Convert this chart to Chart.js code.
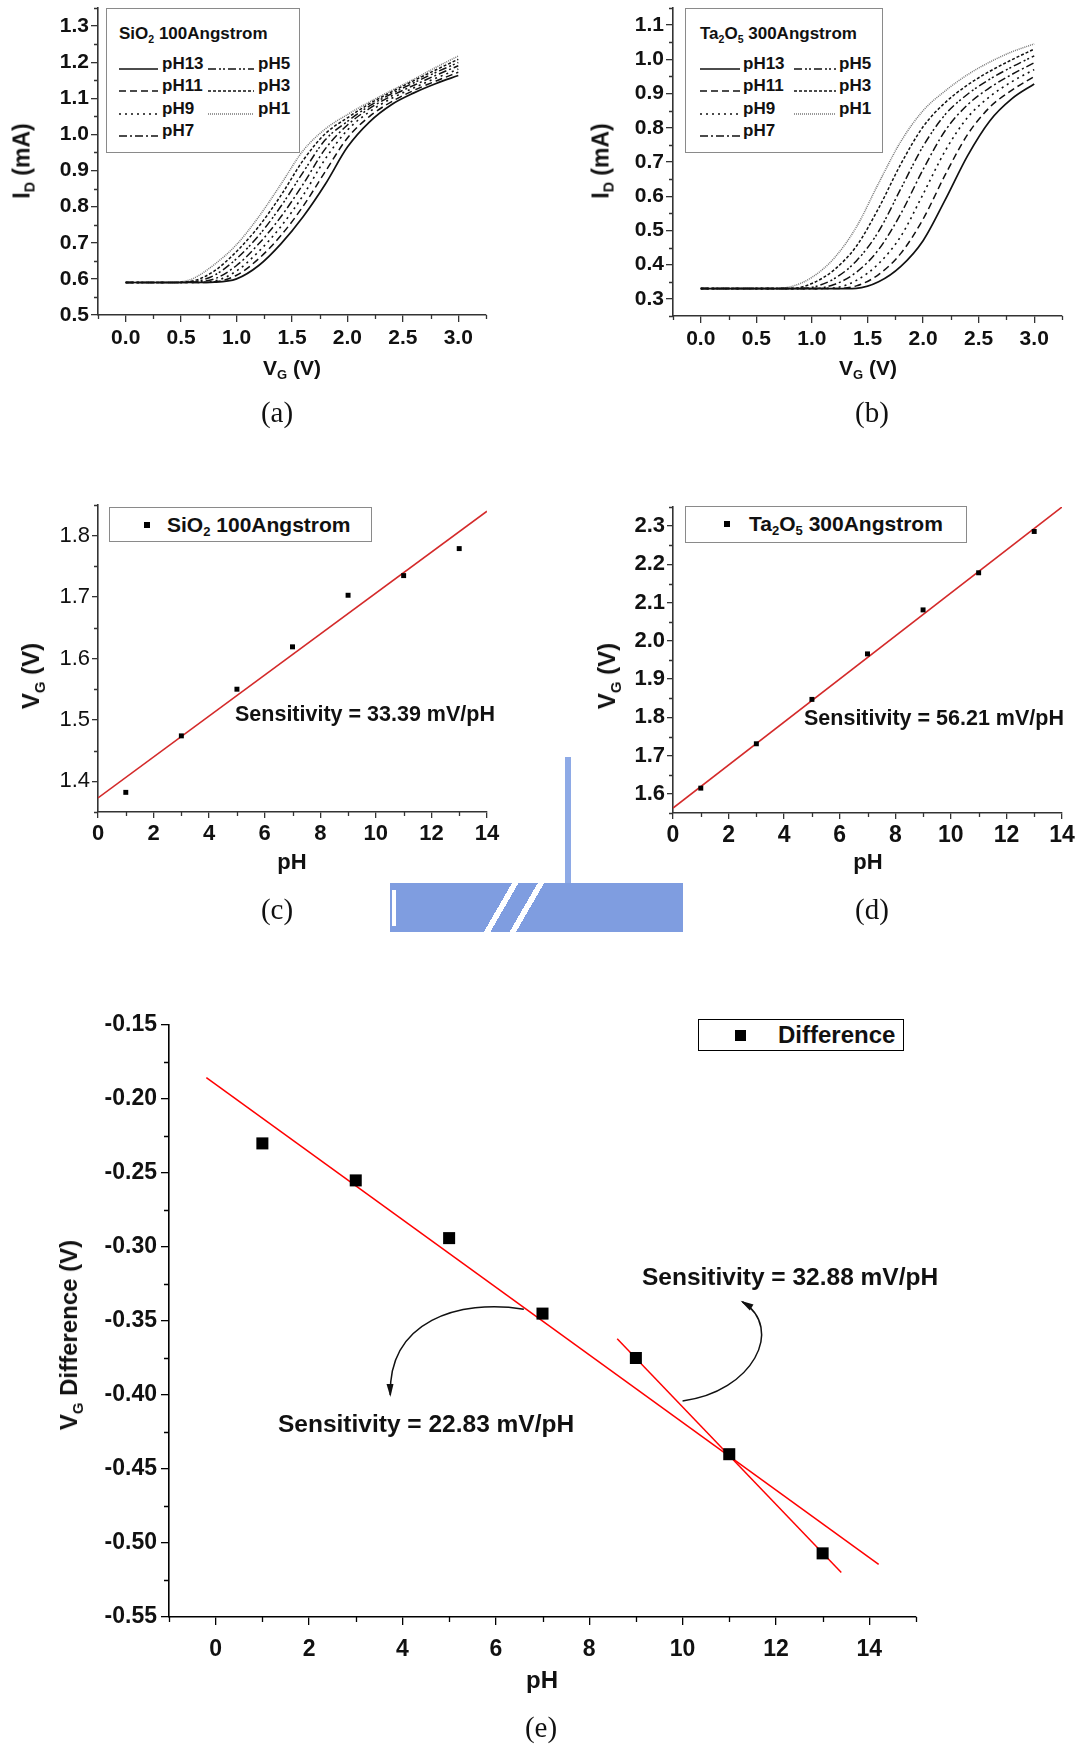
<!DOCTYPE html>
<html>
<head>
<meta charset="utf-8">
<script src="https://cdn.jsdelivr.net/npm/chart.js@4.4.1/dist/chart.umd.min.js"></script>
<style>
  html, body { margin:0; padding:0; background:#fff; }
  body { width:1078px; height:1747px; position:relative; overflow:hidden;
         font-family:'Liberation Sans', Arial, Helvetica, sans-serif; color:#111; }
  canvas { position:absolute; }
  .t { position:absolute; white-space:nowrap; line-height:1; color:#111; }
  .t sub { font-size:0.62em; vertical-align:-0.38em; line-height:0; }
  .box { position:absolute; background:#fff; box-sizing:border-box; }
  .wm { position:absolute; background:#7f9de0; }
</style>
</head>
<body>
<div class="wm" style="left:390px;top:883px;width:293px;height:49px;
  background:linear-gradient(120deg,#7f9de0 0 38%,#fff 38% 40%,#7f9de0 40% 46%,#fff 46% 48%,#7f9de0 48% 100%);"></div>
<div class="wm" style="left:392px;top:890px;width:4px;height:36px;background:#fff;"></div>
<div class="wm" style="left:565px;top:757px;width:6px;height:126px;background:#8eaae6;"></div>
<script>
// ---------------- DATA ----------------
const vgValues = [0.0,0.2,0.4,0.6,0.8,1.0,1.2,1.4,1.6,1.8,2.0,2.2,2.4,2.6,2.8,3.0];
const phLabels = ['pH13','pH11','pH9','pH7','pH5','pH3','pH1'];

// (a) SiO2 100 Angstrom, I_D (mA)
const sio2_pH13 = [0.590,0.590,0.590,0.590,0.591,0.600,0.637,0.697,0.772,0.862,0.965,1.035,1.083,1.115,1.141,1.163];
const sio2_pH11 = [0.590,0.590,0.590,0.590,0.592,0.610,0.656,0.720,0.801,0.897,0.990,1.050,1.091,1.122,1.148,1.172];
const sio2_pH9  = [0.590,0.590,0.590,0.590,0.594,0.622,0.676,0.745,0.831,0.932,1.012,1.063,1.100,1.129,1.156,1.181];
const sio2_pH7  = [0.590,0.590,0.590,0.591,0.600,0.637,0.697,0.772,0.862,0.960,1.026,1.072,1.107,1.136,1.164,1.190];
const sio2_pH5  = [0.590,0.590,0.590,0.592,0.610,0.656,0.720,0.801,0.895,0.985,1.036,1.079,1.113,1.143,1.172,1.199];
const sio2_pH3  = [0.590,0.590,0.590,0.594,0.622,0.676,0.745,0.831,0.928,1.002,1.046,1.085,1.118,1.149,1.179,1.208];
const sio2_pH1  = [0.590,0.590,0.590,0.600,0.640,0.695,0.772,0.862,0.955,1.015,1.055,1.090,1.122,1.153,1.186,1.217];

// (b) Ta2O5 300 Angstrom, I_D (mA)
const ta2o5_pH13 = [0.330,0.330,0.330,0.330,0.330,0.330,0.330,0.331,0.350,0.395,0.470,0.590,0.718,0.820,0.885,0.928];
const ta2o5_pH11 = [0.330,0.330,0.330,0.330,0.330,0.330,0.330,0.338,0.371,0.433,0.533,0.663,0.780,0.860,0.910,0.950];
const ta2o5_pH9  = [0.330,0.330,0.330,0.330,0.330,0.330,0.332,0.354,0.403,0.483,0.606,0.733,0.830,0.891,0.935,0.970];
const ta2o5_pH7  = [0.330,0.330,0.330,0.330,0.330,0.330,0.342,0.378,0.444,0.549,0.678,0.792,0.867,0.917,0.956,0.990];
const ta2o5_pH5  = [0.330,0.330,0.330,0.330,0.330,0.334,0.359,0.411,0.497,0.622,0.746,0.839,0.898,0.942,0.978,1.010];
const ta2o5_pH3  = [0.330,0.330,0.330,0.330,0.330,0.345,0.385,0.454,0.565,0.694,0.803,0.874,0.925,0.965,0.999,1.030];
const ta2o5_pH1  = [0.330,0.330,0.330,0.330,0.335,0.363,0.419,0.510,0.638,0.760,0.850,0.908,0.955,0.992,1.022,1.045];

// (c)(d)(e) V_G vs pH
const phPoints = [1,3,5,7,9,11,13];
const sio2VG  = [1.382,1.474,1.550,1.619,1.703,1.735,1.779];
const ta2o5VG = [1.615,1.731,1.847,1.966,2.081,2.178,2.286];
const diffVG  = [-0.230,-0.255,-0.294,-0.345,-0.375,-0.440,-0.507];

// fitted lines (end points)
const sio2FitX  = [0,14];      const sio2FitY  = [1.373,1.840];
const ta2o5FitX = [0,14];      const ta2o5FitY = [1.563,2.350];
const diffFit1X = [-0.2,14.2]; const diffFit1Y = [-0.1855,-0.5145];
const diffFit2X = [8.6,13.4];  const diffFit2Y = [-0.362,-0.520];

// curved annotation arrows (bezier control points, data coords)
const arrow1X = [6.6,5.2,3.7,3.74];     const arrow1Y = [-0.342,-0.335,-0.350,-0.400];
const arrow2X = [10.0,11.5,12.2,11.28]; const arrow2Y = [-0.404,-0.398,-0.355,-0.337];

// tick values
const idXTicks = [0,0.5,1.0,1.5,2.0,2.5,3.0];
const idXMinor = [-0.25,0.25,0.75,1.25,1.75,2.25,2.75,3.25];
const sio2IdYTicks = [0.5,0.6,0.7,0.8,0.9,1.0,1.1,1.2,1.3];
const sio2IdYMinor = [0.55,0.65,0.75,0.85,0.95,1.05,1.15,1.25,1.35];
const ta2o5IdYTicks = [0.3,0.4,0.5,0.6,0.7,0.8,0.9,1.0,1.1];
const ta2o5IdYMinor = [0.25,0.35,0.45,0.55,0.65,0.75,0.85,0.95,1.05,1.15];
const phXTicks = [0,2,4,6,8,10,12,14];
const phXMinor = [1,3,5,7,9,11,13];
const sio2VgYTicks = [1.4,1.5,1.6,1.7,1.8];
const sio2VgYMinor = [1.35,1.45,1.55,1.65,1.75,1.85];
const ta2o5VgYTicks = [1.6,1.7,1.8,1.9,2.0,2.1,2.2,2.3];
const ta2o5VgYMinor = [1.55,1.65,1.75,1.85,1.95,2.05,2.15,2.25,2.35];
const diffXTicks = [0,2,4,6,8,10,12,14];
const diffXMinor = [-1,1,3,5,7,9,11,13,15];
const diffYTicks = [-0.55,-0.50,-0.45,-0.40,-0.35,-0.30,-0.25,-0.20,-0.15];
const diffYMinor = [-0.525,-0.475,-0.425,-0.375,-0.325,-0.275,-0.225,-0.175];

// ---------------- STYLES ----------------
const phDash  = [[],[7,4],[2,4],[8,3,2,3],[8,3,2,2,2,3],[3,2],[1,1]];
const phColor = ['#111','#111','#111','#111','#111','#111','#777'];
const phWidth = [1.7,1.5,1.6,1.5,1.5,1.5,1.5];

Chart.defaults.font.family = "'Liberation Sans', Arial, Helvetica, sans-serif";
Chart.defaults.color = '#111';

const minorTickPlugin = {
  id: 'minorTicks',
  afterDraw(chart, args, opts) {
    const {ctx, chartArea: a, scales: {x, y}} = chart;
    ctx.save();
    ctx.strokeStyle = opts.color; ctx.lineWidth = 1.3;
    ctx.beginPath();
    (opts.x || []).forEach(v => { const p = Math.round(x.getPixelForValue(v)) + 0.5; ctx.moveTo(p, a.bottom); ctx.lineTo(p, a.bottom + opts.len); });
    (opts.y || []).forEach(v => { const p = Math.round(y.getPixelForValue(v)) + 0.5; ctx.moveTo(a.left, p); ctx.lineTo(a.left - opts.len, p); });
    ctx.stroke();
    ctx.restore();
  }
};

const arrowPlugin = {
  id: 'arrows',
  afterDatasetsDraw(chart, args, opts) {
    const list = opts.list || [];
    if (!list.length) return;
    const {ctx, scales: {x, y}} = chart;
    ctx.save();
    ctx.strokeStyle = '#111'; ctx.fillStyle = '#111'; ctx.lineWidth = 1.5;
    list.forEach(a => {
      const P = a.x.map((xv, i) => [x.getPixelForValue(xv), y.getPixelForValue(a.y[i])]);
      ctx.beginPath();
      ctx.moveTo(P[0][0], P[0][1]);
      ctx.bezierCurveTo(P[1][0], P[1][1], P[2][0], P[2][1], P[3][0], P[3][1]);
      ctx.stroke();
      const ang = Math.atan2(P[3][1] - P[2][1], P[3][0] - P[2][0]);
      const L = 11, W = 3.5;
      const bx = P[3][0] - L * Math.cos(ang), by = P[3][1] - L * Math.sin(ang);
      ctx.beginPath();
      ctx.moveTo(P[3][0] + 2 * Math.cos(ang), P[3][1] + 2 * Math.sin(ang));
      ctx.lineTo(bx + W * Math.sin(ang), by - W * Math.cos(ang));
      ctx.lineTo(bx - W * Math.sin(ang), by + W * Math.cos(ang));
      ctx.closePath();
      ctx.fill();
    });
    ctx.restore();
  }
};

function makePanel(rect, o) {
  const mL = o.mL, mT = 40, mR = 50, mB = o.mB;
  const W = rect.R - rect.L + mL + mR, H = rect.B - rect.T + mT + mB;
  const cv = document.createElement('canvas');
  cv.width = W; cv.height = H;
  cv.style.width = W + 'px'; cv.style.height = H + 'px';
  cv.style.left = (rect.L - mL) + 'px';
  cv.style.top = (rect.T - mT) + 'px';
  document.body.appendChild(cv);
  const gridOpt = {drawOnChartArea: false, drawTicks: true, tickLength: o.tickLen, color: o.axisColor, lineWidth: 1.3};
  const borderOpt = {display: true, color: o.axisColor, width: 1.6};
  return new Chart(cv, {
    type: 'scatter',
    data: {datasets: o.datasets},
    options: {
      responsive: false, animation: false, devicePixelRatio: 1, events: [],
      layout: {padding: {left: 8, top: mT, right: mR, bottom: 4}},
      plugins: {
        legend: {display: false}, tooltip: {enabled: false},
        minorTicks: {x: o.xMinor, y: o.yMinor, len: o.minorLen, color: o.axisColor},
        arrows: {list: o.arrows || []}
      },
      scales: {
        x: {
          type: 'linear', position: 'bottom', min: o.xMin, max: o.xMax,
          afterFit: (s) => { s.height = mB - 4; },
          afterBuildTicks: (s) => { s.ticks = o.xTicks.map(v => ({value: v})); },
          ticks: {autoSkip: false, maxRotation: 0, padding: o.xPad, font: o.xFont, color: '#111', callback: o.xFmt},
          grid: gridOpt, border: borderOpt
        },
        y: {
          type: 'linear', position: 'left', min: o.yMin, max: o.yMax,
          afterFit: (s) => { s.width = mL - 8; },
          afterBuildTicks: (s) => { s.ticks = o.yTicks.map(v => ({value: v})); },
          ticks: {autoSkip: false, padding: o.yPad, font: o.yFont, color: '#111', callback: o.yFmt},
          grid: gridOpt, border: borderOpt
        }
      }
    },
    plugins: [minorTickPlugin, arrowPlugin]
  });
}

function curveSets(series) {
  return series.map((arr, i) => ({
    label: phLabels[i],
    data: vgValues.map((v, j) => ({x: v, y: arr[j]})),
    showLine: true, pointRadius: 0, borderColor: phColor[i], borderWidth: phWidth[i],
    borderDash: phDash[i], cubicInterpolationMode: 'monotone', fill: false
  }));
}
function pointSet(xs, ys, r) {
  return {data: xs.map((v, i) => ({x: v, y: ys[i]})), pointStyle: 'rect', pointRadius: r,
          backgroundColor: '#000', borderColor: '#000', borderWidth: 0, showLine: false};
}
function lineSet(xs, ys, color, w) {
  return {data: xs.map((v, i) => ({x: v, y: ys[i]})), showLine: true, pointRadius: 0,
          borderColor: color, borderWidth: w, fill: false};
}

const f1 = v => v.toFixed(1), f0 = v => String(v), f2 = v => v.toFixed(2);
const B = (s) => ({size: s, weight: 'bold'});

// (a)
makePanel({L: 98, R: 486, T: 8, B: 315}, {
  mL: 98, mB: 50, xMin: -0.25, xMax: 3.25, yMin: 0.5, yMax: 1.35,
  xTicks: idXTicks, yTicks: sio2IdYTicks, xMinor: idXMinor, yMinor: sio2IdYMinor,
  xFmt: f1, yFmt: f1, xFont: B(21), yFont: B(21), xPad: 4, yPad: 2, tickLen: 7, minorLen: 4, axisColor: '#333',
  datasets: curveSets([sio2_pH13, sio2_pH11, sio2_pH9, sio2_pH7, sio2_pH5, sio2_pH3, sio2_pH1])
});
// (b)
makePanel({L: 673, R: 1062, T: 8, B: 316}, {
  mL: 98, mB: 50, xMin: -0.25, xMax: 3.25, yMin: 0.25, yMax: 1.15,
  xTicks: idXTicks, yTicks: ta2o5IdYTicks, xMinor: idXMinor, yMinor: ta2o5IdYMinor,
  xFmt: f1, yFmt: f1, xFont: B(21), yFont: B(21), xPad: 4, yPad: 2, tickLen: 7, minorLen: 4, axisColor: '#333',
  datasets: curveSets([ta2o5_pH13, ta2o5_pH11, ta2o5_pH9, ta2o5_pH7, ta2o5_pH5, ta2o5_pH3, ta2o5_pH1])
});
// (c)
makePanel({L: 98, R: 487, T: 505, B: 812}, {
  mL: 98, mB: 50, xMin: 0, xMax: 14, yMin: 1.35, yMax: 1.85,
  xTicks: phXTicks, yTicks: sio2VgYTicks, xMinor: phXMinor, yMinor: sio2VgYMinor,
  xFmt: f0, yFmt: f1, xFont: B(22), yFont: {size: 22, weight: 'normal'}, xPad: 3, yPad: 2, tickLen: 6, minorLen: 4, axisColor: '#333',
  datasets: [pointSet(phPoints, sio2VG, 3.5), lineSet(sio2FitX, sio2FitY, '#d42a2a', 1.6)]
});
// (d)
makePanel({L: 673, R: 1062, T: 507, B: 813}, {
  mL: 98, mB: 50, xMin: 0, xMax: 14, yMin: 1.55, yMax: 2.35,
  xTicks: phXTicks, yTicks: ta2o5VgYTicks, xMinor: phXMinor, yMinor: ta2o5VgYMinor,
  xFmt: f0, yFmt: f1, xFont: B(23), yFont: B(22), xPad: 3, yPad: 2, tickLen: 6, minorLen: 4, axisColor: '#333',
  datasets: [pointSet(phPoints, ta2o5VG, 3.5), lineSet(ta2o5FitX, ta2o5FitY, '#d42a2a', 1.6)]
});
// (e)
makePanel({L: 169, R: 916, T: 1025, B: 1617}, {
  mL: 120, mB: 60, xMin: -1, xMax: 15, yMin: -0.55, yMax: -0.15,
  xTicks: diffXTicks, yTicks: diffYTicks, xMinor: diffXMinor, yMinor: diffYMinor,
  xFmt: f0, yFmt: f2, xFont: B(23), yFont: B(23), xPad: 11, yPad: 4, tickLen: 8, minorLen: 5, axisColor: '#000',
  datasets: [pointSet(phPoints, diffVG, 8.5), lineSet(diffFit1X, diffFit1Y, '#ff0000', 1.5), lineSet(diffFit2X, diffFit2Y, '#ff0000', 1.5)],
  arrows: [{x: arrow1X, y: arrow1Y}, {x: arrow2X, y: arrow2Y}]
});

// ---------------- TEXT / LEGENDS (HTML) ----------------
function addText(html, x, y, size, o = {}) {
  const d = document.createElement('div');
  d.className = 't';
  d.innerHTML = html;
  d.style.fontSize = size + 'px';
  d.style.left = x + 'px'; d.style.top = y + 'px';
  d.style.fontWeight = o.weight || 'bold';
  if (o.family) d.style.fontFamily = o.family;
  let tf = o.anchor === 'center' ? 'translate(-50%,-50%)' : 'translate(0,-50%)';
  if (o.rot) tf = 'translate(-50%,-50%) rotate(-90deg)';
  d.style.transform = tf;
  document.body.appendChild(d);
  return d;
}
function addBox(x, y, w, h, border) {
  const d = document.createElement('div');
  d.className = 'box';
  Object.assign(d.style, {left: x + 'px', top: y + 'px', width: w + 'px', height: h + 'px', border: border});
  document.body.appendChild(d);
}
function addSample(i, x1, x2, y) {
  const w = x2 - x1;
  const d = document.createElement('div');
  d.style.position = 'absolute'; d.style.left = x1 + 'px'; d.style.top = (y - 4) + 'px';
  d.innerHTML = `<svg width="${w}" height="8"><line x1="0" y1="4" x2="${w}" y2="4" stroke="${phColor[i]}" stroke-width="${phWidth[i]}" stroke-dasharray="${phDash[i].join(' ') || 'none'}"/></svg>`;
  document.body.appendChild(d);
}
function addMarker(cx, cy, s) {
  const d = document.createElement('div');
  Object.assign(d.style, {position: 'absolute', left: (cx - s / 2) + 'px', top: (cy - s / 2) + 'px', width: s + 'px', height: s + 'px', background: '#000'});
  document.body.appendChild(d);
}
const serif = "'Liberation Serif', 'Times New Roman', serif";

function curveLegend(bx, by, bw, bh, titleHtml, c1, c2) {
  addBox(bx, by, bw, bh, '1.3px solid #8a8a8a');
  addText(titleHtml, c1.s1, by + 25, 17);
  const rows = [by + 55, by + 77, by + 99.5, by + 122];
  [0, 1, 2, 3].forEach((i, r) => { addSample(i, c1.s1, c1.s2, rows[r]); addText(phLabels[i], c1.l, rows[r], 17); });
  [4, 5, 6].forEach((i, r) => { addSample(i, c2.s1, c2.s2, rows[r]); addText(phLabels[i], c2.l, rows[r], 17); });
}

// (a)
addText('I<sub>D</sub> (mA)', 22, 161, 23, {rot: true});
addText('V<sub>G</sub> (V)', 292, 367, 21, {anchor: 'center'});
addText('(a)', 277, 412, 29, {anchor: 'center', weight: 'normal', family: serif});
curveLegend(106, 8, 194, 145, 'SiO<sub>2</sub> 100Angstrom', {s1: 119, s2: 158, l: 162}, {s1: 208, s2: 254, l: 258});
// (b)
addText('I<sub>D</sub> (mA)', 601, 161, 23, {rot: true});
addText('V<sub>G</sub> (V)', 868, 367, 21, {anchor: 'center'});
addText('(b)', 872, 412, 29, {anchor: 'center', weight: 'normal', family: serif});
curveLegend(685, 8, 198, 145, 'Ta<sub>2</sub>O<sub>5</sub> 300Angstrom', {s1: 700, s2: 740, l: 743}, {s1: 794, s2: 836, l: 839});
// (c)
addText('V<sub>G</sub> (V)', 31, 676, 24, {rot: true});
addText('pH', 292, 862, 22, {anchor: 'center'});
addText('(c)', 277, 909, 29, {anchor: 'center', weight: 'normal', family: serif});
addBox(109, 507, 263, 35, '1.3px solid #8a8a8a');
addMarker(147, 525, 6);
addText('SiO<sub>2</sub> 100Angstrom', 167, 524, 21);
addText('Sensitivity = 33.39 mV/pH', 235, 715, 21.5);
// (d)
addText('V<sub>G</sub> (V)', 607, 676, 24, {rot: true});
addText('pH', 868, 862, 22, {anchor: 'center'});
addText('(d)', 872, 909, 29, {anchor: 'center', weight: 'normal', family: serif});
addBox(685, 506, 282, 37, '1.3px solid #8a8a8a');
addMarker(727, 524, 6);
addText('Ta<sub>2</sub>O<sub>5</sub> 300Angstrom', 749, 523, 21);
addText('Sensitivity = 56.21 mV/pH', 804, 719, 21.5);
// (e)
addText('V<sub>G</sub> Difference (V)', 69, 1335, 24, {rot: true});
addText('pH', 542, 1680, 24, {anchor: 'center'});
addText('(e)', 541, 1727, 29, {anchor: 'center', weight: 'normal', family: serif});
addBox(698, 1019, 206, 32, '1.3px solid #000');
addMarker(740, 1035, 11);
addText('Difference', 778, 1035, 24);
addText('Sensitivity = 32.88 mV/pH', 642, 1277, 24.5);
addText('Sensitivity = 22.83 mV/pH', 278, 1424, 24.5);
</script>
</body>
</html>
